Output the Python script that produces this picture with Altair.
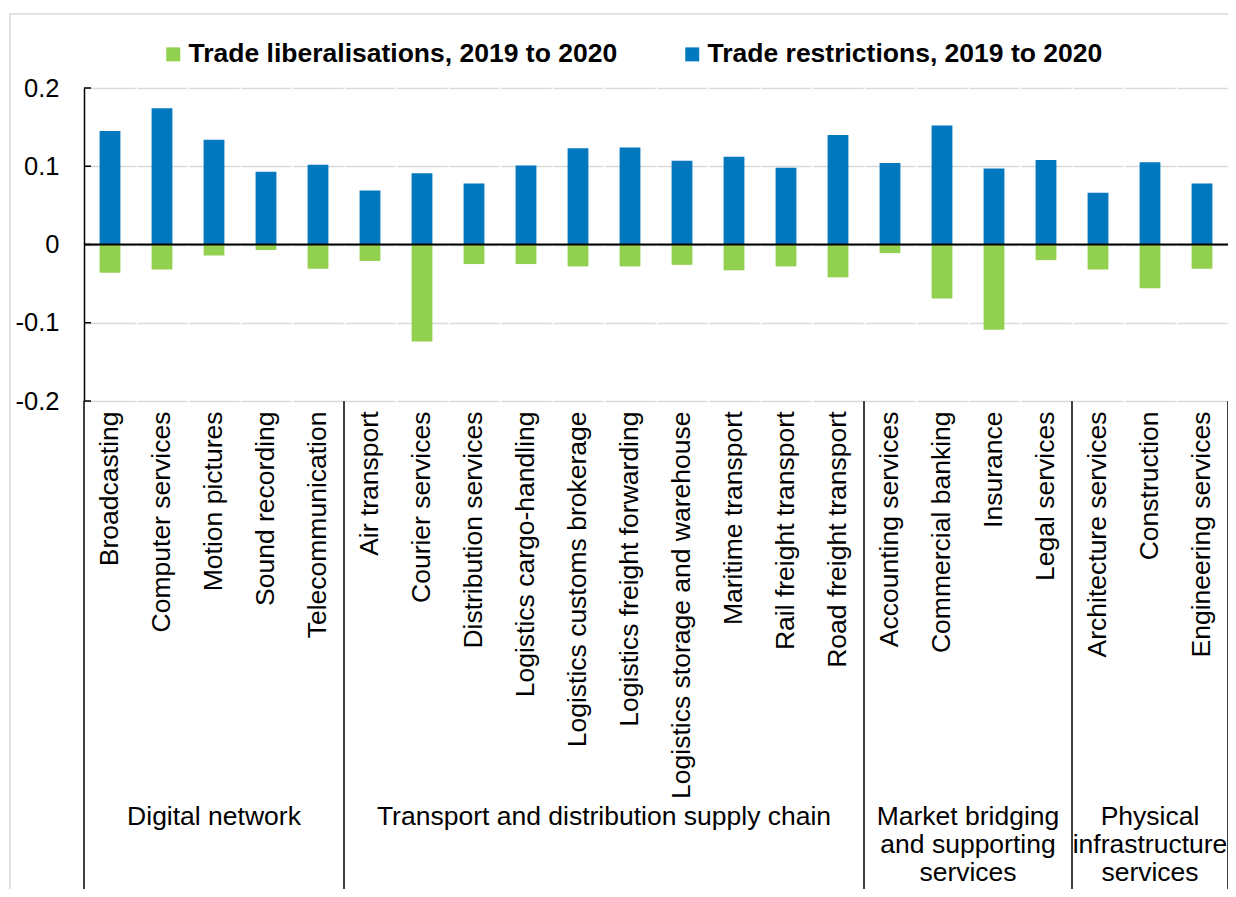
import altair as alt
import pandas as pd

FONT = "Liberation Sans"

categories = [
    "Broadcasting", "Computer services", "Motion pictures", "Sound recording", "Telecommunication",
    "Air transport", "Courier services", "Distribution services", "Logistics cargo-handling",
    "Logistics customs brokerage", "Logistics freight forwarding", "Logistics storage and warehouse",
    "Maritime transport", "Rail freight transport", "Road freight transport",
    "Accounting services", "Commercial banking", "Insurance", "Legal services",
    "Architecture services", "Construction", "Engineering services",
]
restrictions = [
    0.145, 0.174, 0.134, 0.093, 0.102,
    0.069, 0.091, 0.078, 0.101, 0.123, 0.124, 0.107, 0.112, 0.098, 0.140,
    0.104, 0.152, 0.097, 0.108,
    0.066, 0.105, 0.078,
]
liberalisations = [
    -0.036, -0.032, -0.014, -0.007, -0.031,
    -0.021, -0.124, -0.025, -0.025, -0.028, -0.028, -0.026, -0.033, -0.028, -0.042,
    -0.011, -0.069, -0.109, -0.020,
    -0.032, -0.056, -0.031,
]
series_names = ["Trade liberalisations, 2019 to 2020", "Trade restrictions, 2019 to 2020"]
series_colors = ["#92D050", "#0278BE"]

group_labels = ["Digital network", "Transport and distribution supply chain",
                "Market bridging\nand supporting\nservices", "Physical\ninfrastructure\nservices"]
group_anchor = ["Motion pictures", "Logistics freight forwarding", "Insurance", "Construction"]
group_centered = [True, False, False, True]
separator_cats = ["Broadcasting", "Air transport", "Accounting services", "Architecture services"]
y_ticks = [-0.2, -0.1, 0, 0.1, 0.2]

rows = []
for c, lib, res in zip(categories, liberalisations, restrictions):
    rows.append({"category": c, "series": series_names[0], "value": lib})
    rows.append({"category": c, "series": series_names[1], "value": res})
df = pd.DataFrame(rows)

xscale = alt.Scale(domain=categories, paddingInner=0, paddingOuter=0)
yscale = alt.Scale(domain=[-0.2, 0.2], nice=False, zero=False)

xaxis = alt.Axis(labelAngle=-90, labelFont=FONT, labelFontSize=26.5, labelColor="black",
                 labelPadding=10, ticks=False, tickSize=0, domain=False, grid=False,
                 labelLimit=1000, title=None)
yaxis = alt.Axis(values=y_ticks, labelFont=FONT, labelFontSize=25.5, labelColor="black",
                 labelPadding=25, ticks=False, tickSize=0, domain=True, domainColor="black",
                 domainWidth=1.5, grid=True, gridColor="#D9D9D9", gridWidth=1.5,
                 gridDash=[50, 2], gridDashOffset=51, title=None,
                 labelExpr="datum.value == 0 ? '0' : (datum.value < 0 ? '-' + format(-datum.value, '.1f') : format(datum.value, '.1f'))")


def X(field, bp=None):
    if bp is None:
        return alt.X(field, type="nominal", sort=categories, scale=xscale, axis=xaxis, title=None)
    return alt.X(field, type="nominal", sort=categories, scale=xscale, axis=xaxis, title=None,
                 bandPosition=bp)


def Y(field):
    return alt.Y(field, type="quantitative", scale=yscale, axis=yaxis, stack=None, title=None)


frame = alt.Chart(pd.DataFrame({"a": [0]})).mark_rect(
    filled=False, stroke="#D9D9D9", strokeWidth=1.5
).encode(x=alt.value(-74), x2=alt.value(1250), y=alt.value(-74), y2=alt.value(950))

bars = alt.Chart(df).mark_bar(width=alt.RelativeBandSize(0.4)).encode(
    x=X("category"),
    y=Y("value"),
    color=alt.Color("series:N", scale=alt.Scale(domain=series_names, range=series_colors),
                    legend=alt.Legend(orient="none", legendX=76, legendY=-47, direction="horizontal",
                                      title=None, symbolType="square", symbolSize=196,
                                      symbolStrokeWidth=0, labelFont=FONT, labelFontSize=26.5,
                                      labelFontWeight="bold", labelColor="black", labelOffset=2,
                                      columnPadding=61, padding=0, labelLimit=1000)),
)

zero = alt.Chart(pd.DataFrame({"value": [0]})).mark_rule(color="black", strokeWidth=2).encode(
    y=Y("value")
)

ticks = alt.Chart(pd.DataFrame({"value": y_ticks})).mark_rule(color="black", strokeWidth=1.5).encode(
    y=Y("value"), x=alt.value(0), x2=alt.value(7)
)

sep_left = alt.Chart(pd.DataFrame({"category": separator_cats})).mark_rule(
    color="black", strokeWidth=1.5).encode(
    x=X("category", 0), y=alt.value(313), y2=alt.value(900),
)
sep_right = alt.Chart(pd.DataFrame({"category": [categories[-1]]})).mark_rule(
    color="black", strokeWidth=1.5).encode(
    x=X("category", 1), y=alt.value(313), y2=alt.value(900),
)

gdf = pd.DataFrame({"category": group_anchor, "label": group_labels, "centered": group_centered})
text_common = dict(font=FONT, fontSize=26.5, color="black", align="center", baseline="top",
                   lineBreak="\n", lineHeight=28)
glab_mid = alt.Chart(gdf[gdf["centered"]]).mark_text(**text_common).encode(
    x=X("category", 0.5), y=alt.value(716), text="label:N",
)
glab_edge = alt.Chart(gdf[~gdf["centered"]]).mark_text(**text_common).encode(
    x=X("category", 0), y=alt.value(716), text="label:N",
)

chart = alt.layer(frame, bars, zero, ticks, sep_left, sep_right, glab_mid, glab_edge).properties(
    width=1144, height=313,
    autosize=alt.AutoSizeParams(type="none"),
    padding={"left": 76, "top": 80, "right": 0, "bottom": 488},
    background="white",
).configure_view(stroke=None)

chart.save("out.html", embed_options={"renderer": "svg", "actions": False})
